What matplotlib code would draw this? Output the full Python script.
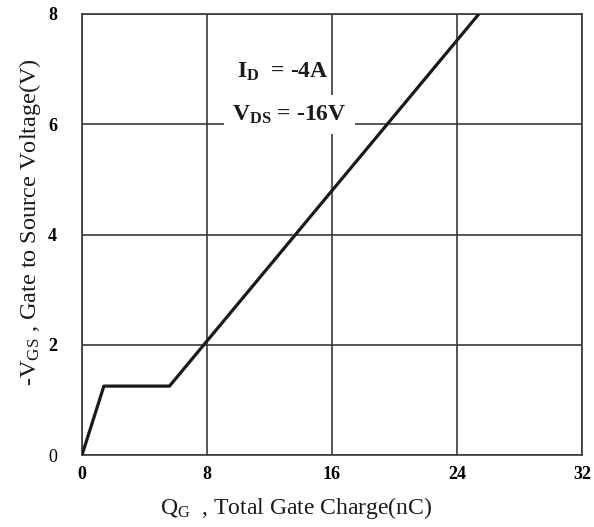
import matplotlib
matplotlib.use("Agg")
import matplotlib.pyplot as plt

plt.rcParams['font.family'] = ['Liberation Serif', 'DejaVu Serif']
plt.rcParams['mathtext.fontset'] = 'custom'
plt.rcParams['mathtext.rm'] = 'Liberation Serif'
plt.rcParams['mathtext.it'] = 'Liberation Serif'
plt.rcParams['mathtext.bf'] = 'Liberation Serif:bold'

# Data
qg = [0, 1.4, 5.6, 25.4]          # nC
vgs = [0, 1.25, 1.25, 8.0]        # -V
x_ticks = [0, 8, 16, 24, 32]
y_ticks = [0, 2, 4, 6, 8]

fig = plt.figure(figsize=(5.94, 5.27), dpi=100)
ax = fig.add_axes([82/594, 72/527, 500/594, 441/527])

ax.set_xlim(0, 32)
ax.set_ylim(0, 8)
ax.set_xticks(x_ticks)
ax.set_yticks(y_ticks)
ax.grid(True, color='#3a3a3a', linewidth=1.2)
for s in ax.spines.values():
    s.set_color('#3a3a3a')
    s.set_linewidth(1.2)
ax.tick_params(length=0)
ax.tick_params(axis='x', pad=8)
ax.tick_params(axis='y', pad=18)
ax.set_xticklabels([str(t) for t in x_ticks], fontsize=13, fontweight='bold')
ylabels = ax.set_yticklabels([str(t) for t in y_ticks], fontsize=13, fontweight='bold')
ylabels[0].set_fontweight('normal')

ax.plot(qg, vgs, color='#1a1a1a', linewidth=2.3, solid_capstyle='butt', zorder=5)

ax.text(9.9, 6.85, r'I$_{\mathbf{D}}$  = -4A', fontsize=17, fontweight='bold',
        ha='left', va='baseline', color='#1a1a1a', zorder=6)
ax.text(9.6, 6.07, r'V$_{\mathbf{DS}}$ = -16V', fontsize=17, fontweight='bold',
        ha='left', va='baseline', color='#1a1a1a', zorder=6,
        bbox=dict(facecolor='white', edgecolor='none', pad=6))

fig.text(296/594, 1 - 508/527, r'Q$_{\rm G}$  , Total Gate Charge(nC)', fontsize=17,
         ha='center', va='center', color='#1a1a1a')
fig.text(30/594, 1 - 222/527, r'-V$_{\rm GS}$ , Gate to Source Voltage(V)', fontsize=17.5,
         ha='center', va='center', rotation=90, color='#1a1a1a')

fig.savefig('out.png', dpi=100, facecolor='white')
